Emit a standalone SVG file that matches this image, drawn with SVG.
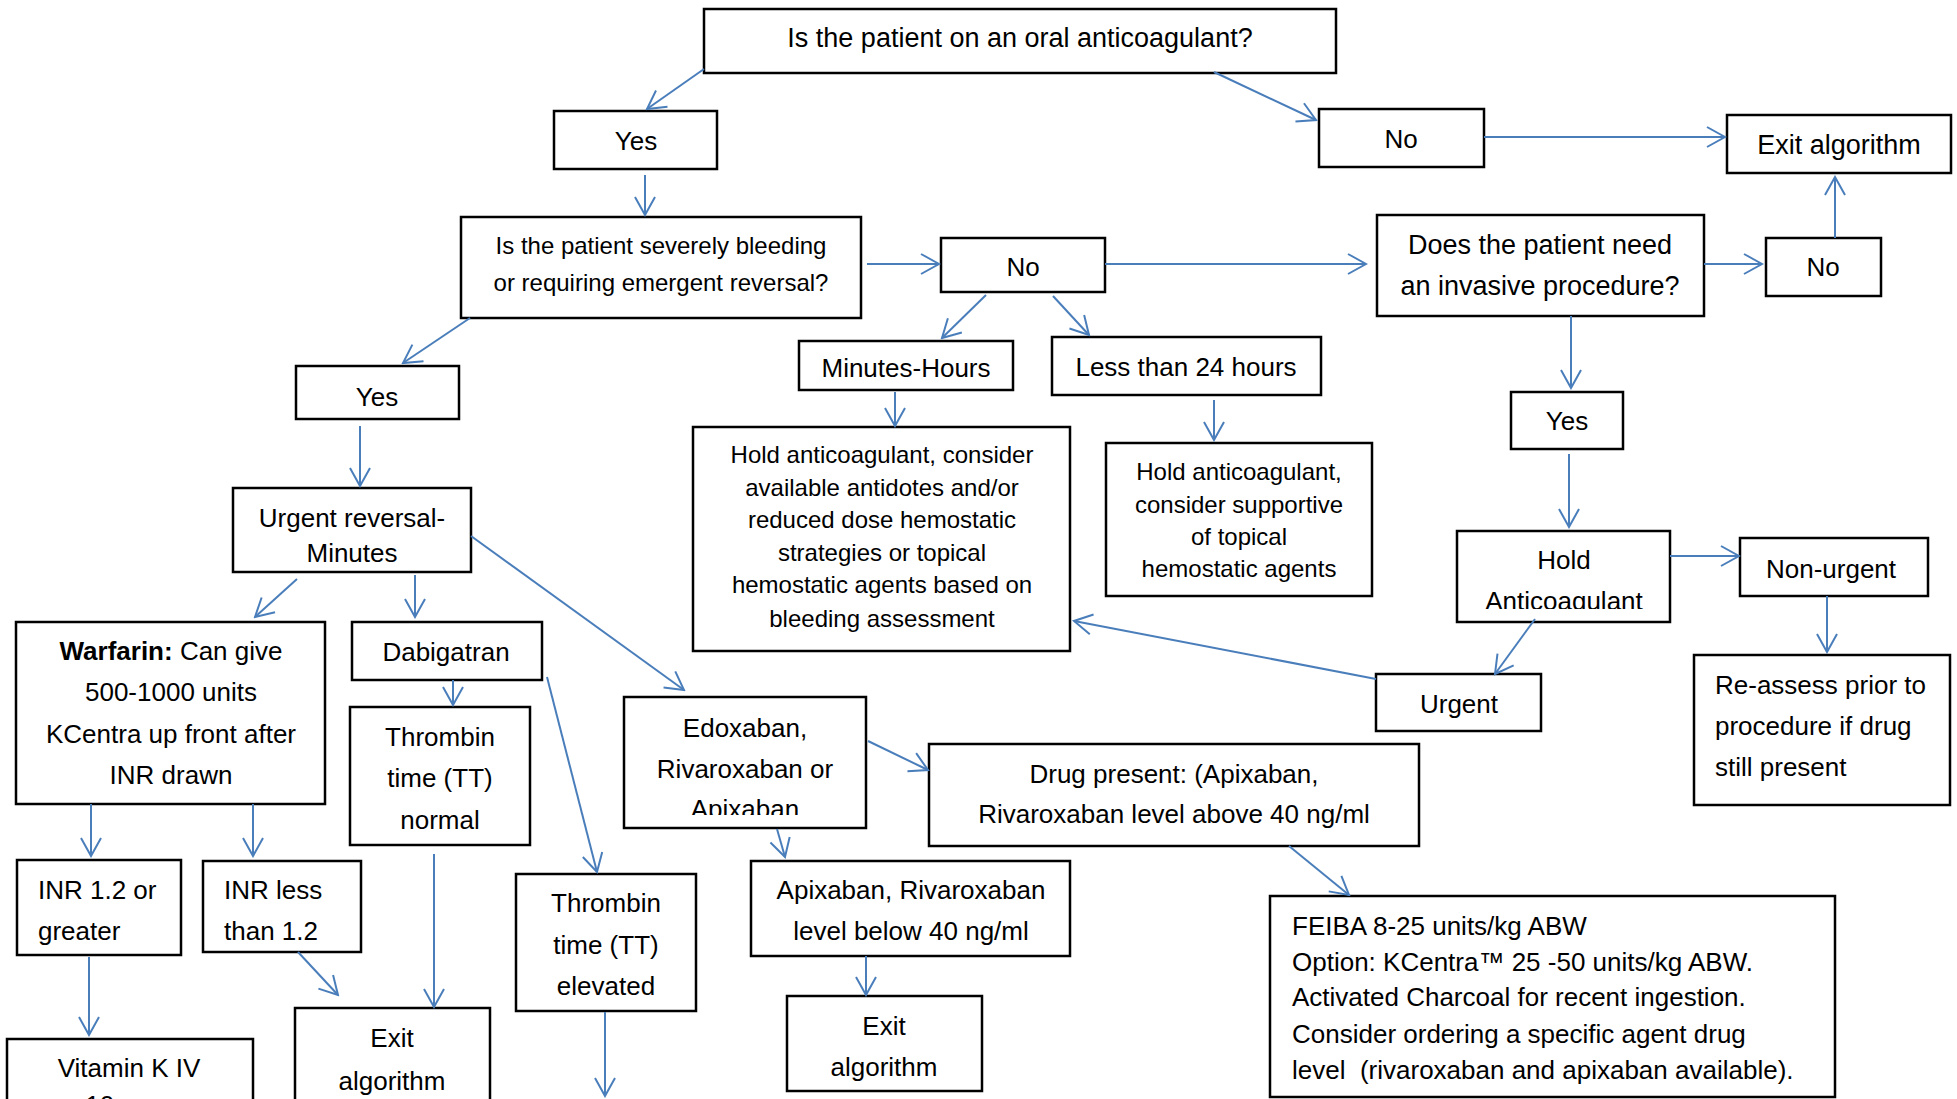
<svg xmlns="http://www.w3.org/2000/svg" width="1957" height="1099" viewBox="0 0 1957 1099">
<style>
.b{fill:#fff;stroke:#000;stroke-width:2.5}
text{font-family:"Liberation Sans",Arial,sans-serif;font-size:26px;fill:#000}
.c{text-anchor:middle}
.s{font-size:24px}
.l{font-size:27px}
.cn path{fill:none;stroke:#4A7EBB;stroke-width:2;marker-end:url(#ah)}
</style>
<defs>
<marker id="ah" markerUnits="userSpaceOnUse" markerWidth="22" markerHeight="24" refX="18" refY="10" orient="auto" viewBox="-2 -2 22 24">
<path d="M0,0 L18,10 L0,20" fill="none" stroke="#4A7EBB" stroke-width="2"/>
</marker>
<clipPath id="cpEdox"><rect x="624" y="697" width="242" height="118"/></clipPath>
<clipPath id="cpHold"><rect x="1457" y="531" width="213" height="78"/></clipPath>
</defs>
<rect width="1957" height="1099" fill="#fff"/>

<g id="q1"><rect class="b" x="704" y="9" width="632" height="64"/><text class="c l" x="1020" y="47">Is the patient on an oral anticoagulant?</text></g>
<g id="yes1"><rect class="b" x="554" y="111" width="163" height="58"/><text class="c" x="636" y="150">Yes</text></g>
<g id="no1"><rect class="b" x="1319" y="109" width="165" height="58"/><text class="c" x="1401" y="148">No</text></g>
<g id="exit1"><rect class="b" x="1727" y="115" width="224" height="58"/><text class="c l" x="1839" y="154">Exit algorithm</text></g>
<g id="q2"><rect class="b" x="461" y="217" width="400" height="101"/><text class="c s" x="661" y="254">Is the patient severely bleeding</text><text class="c s" x="661" y="291">or requiring emergent reversal?</text></g>
<g id="no2"><rect class="b" x="941" y="238" width="164" height="54"/><text class="c" x="1023" y="276">No</text></g>
<g id="q3"><rect class="b" x="1377" y="215" width="327" height="101"/><text class="c l" x="1540" y="254">Does the patient need</text><text class="c l" x="1540" y="295">an invasive procedure?</text></g>
<g id="no3"><rect class="b" x="1766" y="238" width="115" height="58"/><text class="c" x="1823" y="276">No</text></g>
<g id="minhrs"><rect class="b" x="799" y="341" width="214" height="49"/><text class="c" x="906" y="377">Minutes-Hours</text></g>
<g id="lt24"><rect class="b" x="1052" y="337" width="269" height="58"/><text class="c" x="1186" y="376">Less than 24 hours</text></g>
<g id="yes2"><rect class="b" x="296" y="366" width="163" height="53"/><text class="c" x="377" y="406">Yes</text></g>
<g id="yes3"><rect class="b" x="1511" y="392" width="112" height="57"/><text class="c" x="1567" y="430">Yes</text></g>
<g id="urgrev"><rect class="b" x="233" y="488" width="238" height="84"/><text class="c" x="352" y="527">Urgent reversal-</text><text class="c" x="352" y="562">Minutes</text></g>
<g id="warfarin"><rect class="b" x="16" y="622" width="309" height="182"/><text class="c" x="171" y="660"><tspan font-weight="bold">Warfarin:</tspan> Can give</text><text class="c" x="171" y="701">500-1000 units</text><text class="c" x="171" y="743">KCentra up front after</text><text class="c" x="171" y="784">INR drawn</text></g>
<g id="dabi"><rect class="b" x="352" y="622" width="190" height="58"/><text class="c" x="446" y="661">Dabigatran</text></g>
<g id="ttnorm"><rect class="b" x="350" y="707" width="180" height="138"/><text class="c" x="440" y="746">Thrombin</text><text class="c" x="440" y="787">time (TT)</text><text class="c" x="440" y="829">normal</text></g>
<g id="inrhi"><rect class="b" x="17" y="860" width="164" height="95"/><text x="38" y="899">INR 1.2 or</text><text x="38" y="940">greater</text></g>
<g id="inrlo"><rect class="b" x="203" y="861" width="158" height="91"/><text x="224" y="899">INR less</text><text x="224" y="940">than 1.2</text></g>
<g id="vitk"><rect class="b" x="7" y="1039" width="246" height="80"/><text class="c" x="129" y="1077">Vitamin K IV</text><text class="c" x="129" y="1114">10mg +</text></g>
<g id="exit2"><rect class="b" x="295" y="1008" width="195" height="110"/><text class="c" x="392" y="1047">Exit</text><text class="c" x="392" y="1090">algorithm</text></g>
<g id="ttelev"><rect class="b" x="516" y="874" width="180" height="137"/><text class="c" x="606" y="912">Thrombin</text><text class="c" x="606" y="954">time (TT)</text><text class="c" x="606" y="995">elevated</text></g>
<g id="holdbig"><rect class="b" x="693" y="427" width="377" height="224"/><text class="c s" x="882" y="463">Hold anticoagulant, consider</text><text class="c s" x="882" y="496">available antidotes and/or</text><text class="c s" x="882" y="528">reduced dose hemostatic</text><text class="c s" x="882" y="561">strategies or topical</text><text class="c s" x="882" y="593">hemostatic agents based on</text><text class="c s" x="882" y="627">bleeding assessment</text></g>
<g id="holdsup"><rect class="b" x="1106" y="443" width="266" height="153"/><text class="c s" x="1239" y="480">Hold anticoagulant,</text><text class="c s" x="1239" y="513">consider supportive</text><text class="c s" x="1239" y="545">of topical</text><text class="c s" x="1239" y="577">hemostatic agents</text></g>
<g id="edox"><rect class="b" x="624" y="697" width="242" height="131"/><g clip-path="url(#cpEdox)"><text class="c" x="745" y="737">Edoxaban,</text><text class="c" x="745" y="778">Rivaroxaban or</text><text class="c" x="745" y="818">Apixaban</text></g></g>
<g id="drugpres"><rect class="b" x="929" y="744" width="490" height="102"/><text class="c" x="1174" y="783">Drug present: (Apixaban,</text><text class="c" x="1174" y="823">Rivaroxaban level above 40 ng/ml</text></g>
<g id="apibelow"><rect class="b" x="751" y="861" width="319" height="95"/><text class="c" x="911" y="899">Apixaban, Rivaroxaban</text><text class="c" x="911" y="940">level below 40 ng/ml</text></g>
<g id="exit3"><rect class="b" x="787" y="996" width="195" height="95"/><text class="c" x="884" y="1035">Exit</text><text class="c" x="884" y="1076">algorithm</text></g>
<g id="holdac"><rect class="b" x="1457" y="531" width="213" height="91"/><g clip-path="url(#cpHold)"><text class="c" x="1564" y="569">Hold</text><text class="c" x="1564" y="610">Anticoagulant</text></g></g>
<g id="nonurg"><rect class="b" x="1740" y="538" width="188" height="58"/><text class="c" x="1831" y="578">Non-urgent</text></g>
<g id="urgent"><rect class="b" x="1376" y="674" width="165" height="57"/><text class="c" x="1459" y="713">Urgent</text></g>
<g id="reassess"><rect class="b" x="1694" y="655" width="256" height="150"/><text x="1715" y="694">Re-assess prior to</text><text x="1715" y="735">procedure if drug</text><text x="1715" y="776">still present</text></g>
<g id="feiba"><rect class="b" x="1270" y="896" width="565" height="201"/><text x="1292" y="935">FEIBA 8-25 units/kg ABW</text><text x="1292" y="971">Option: KCentra™ 25 -50 units/kg ABW.</text><text x="1292" y="1006">Activated Charcoal for recent ingestion.</text><text x="1292" y="1043">Consider ordering a specific agent drug</text><text x="1292" y="1079" xml:space="preserve">level  (rivaroxaban and apixaban available).</text></g>

<g id="connectors" class="cn">
<path d="M704,69 L647,109"/>
<path d="M645,175 L645,215"/>
<path d="M867,264 L939,264"/>
<path d="M470,318 L403,363"/>
<path d="M986,295 L942,338"/>
<path d="M895,392 L895,426"/>
<path d="M1214,72 L1316,120"/>
<path d="M1484,137 L1725,137"/>
<path d="M1105,264 L1366,264"/>
<path d="M1704,264 L1762,264"/>
<path d="M1835,238 L1835,177"/>
<path d="M1053,296 L1089,335"/>
<path d="M1571,316 L1571,388"/>
<path d="M1214,400 L1214,440"/>
<path d="M360,426 L360,486"/>
<path d="M297,579 L255,617"/>
<path d="M415,575 L415,617"/>
<path d="M471,536 L684,690"/>
<path d="M453,680 L453,705"/>
<path d="M547,677 L597,872"/>
<path d="M91,804 L91,856"/>
<path d="M253,804 L253,856"/>
<path d="M89,957 L89,1035"/>
<path d="M298,952 L338,995"/>
<path d="M434,854 L434,1007"/>
<path d="M605,1012 L605,1096"/>
<path d="M868,741 L928,770"/>
<path d="M777,829 L785,857"/>
<path d="M866,956 L866,995"/>
<path d="M1289,846 L1349,895"/>
<path d="M1376,679 L1074,621"/>
<path d="M1569,454 L1569,527"/>
<path d="M1670,556 L1739,556"/>
<path d="M1535,619 L1495,674"/>
<path d="M1827,596 L1827,652"/>
</g>
</svg>
